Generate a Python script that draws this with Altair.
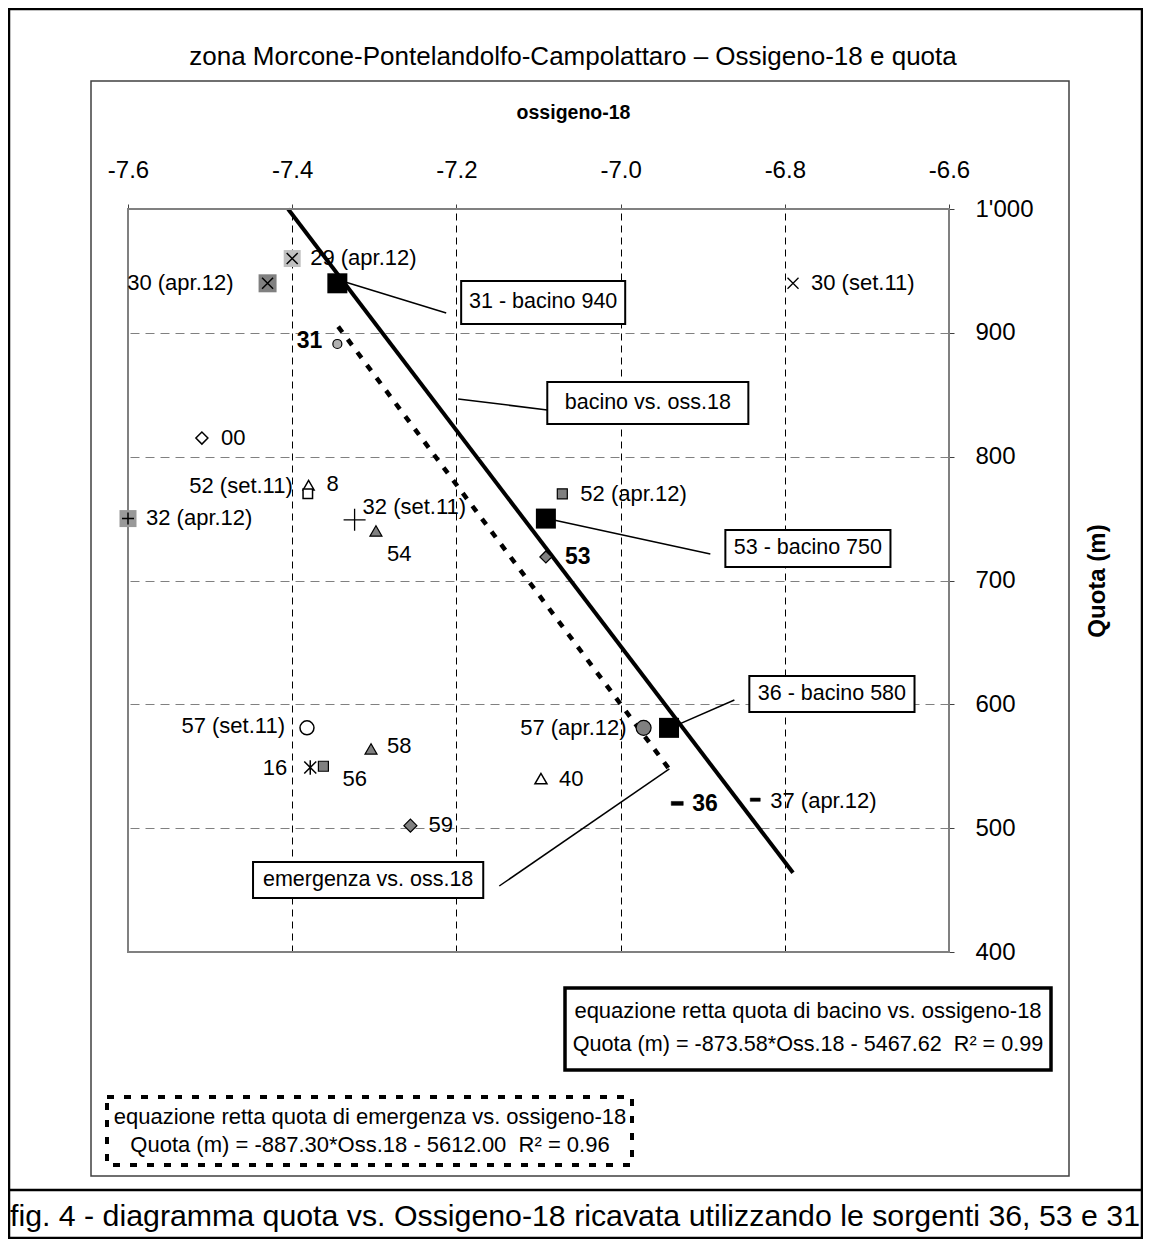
import altair as alt
import pandas as pd

# ---------------- data ----------------
sample_names = ["29 (apr.12)", "30 (apr.12)", "30 (set.11)", "31", "00", "8",
                "52 (set.11)", "32 (apr.12)", "32 (set.11)", "54", "52 (apr.12)",
                "53", "57 (set.11)", "58", "16", "56", "59", "57 (apr.12)", "40",
                "36", "37 (apr.12)"]
sample_oss18 = [-7.40, -7.43, -6.79, -7.345, -7.51, -7.38, -7.381, -7.60, -7.324,
                -7.298, -7.071, -7.091, -7.382, -7.304, -7.378, -7.362, -7.256,
                -6.972, -7.097, -6.931, -6.836]
sample_quota = [960, 940, 940, 891, 815, 777, 770, 750, 749, 740, 770, 719, 581,
                564, 549, 550, 502, 581, 540, 520, 523]

basin_names = ["31 - bacino 940", "53 - bacino 750", "36 - bacino 580"]
basin_oss18 = [-7.345, -7.091, -6.941]
basin_quota = [940, 750, 581]

basin_fit_oss18 = [-7.405, -6.79]
basin_fit_quota = [1000, 464]
spring_fit_oss18 = [-7.344, -6.940]
spring_fit_quota = [905, 547]

x_ticks = [-7.6, -7.4, -7.2, -7.0, -6.8, -6.6]
y_ticks = [400, 500, 600, 700, 800, 900, 1000]

callout_texts = ["31 - bacino 940", "bacino vs. oss.18", "53 - bacino 750",
                 "36 - bacino 580", "emergenza vs. oss.18"]

title_text = "zona Morcone-Pontelandolfo-Campolattaro \u2013 Ossigeno-18 e quota"
caption_text = "fig. 4 - diagramma quota vs. Ossigeno-18 ricavata utilizzando le sorgenti 36, 53 e 31"
eq_basin = ["equazione retta quota di bacino vs. ossigeno-18",
            "Quota (m) = -873.58*Oss.18 - 5467.62 \u00a0R\u00b2 = 0.99"]
eq_spring = ["equazione retta quota di emergenza vs. ossigeno-18",
             "Quota (m) = -887.30*Oss.18 - 5612.00 \u00a0R\u00b2 = 0.96"]

# ---------------- styles ----------------
FONT = "Liberation Sans"
GRAY = "#808080"
X_PATH = "M-1,-1L1,1M1,-1L-1,1"
PLUS_PATH = "M-1,0L1,0M0,-1L0,1"
AST_PATH = "M-1,-1L1,1M1,-1L-1,1M0,-1.2L0,1.2"
DASH_PATH = "M-1,-0.33L1,-0.33L1,0.33L-1,0.33Z"
T = "transparent"

# name: (shape, fill, size, strokeWidth)
marker_style = {
    "29 (apr.12)": (X_PATH, T, 121, 1.5),
    "30 (apr.12)": (X_PATH, T, 121, 1.5),
    "30 (set.11)": (X_PATH, T, 121, 1.3),
    "31": ("circle", "#b0b0b0", 81, 1.2),
    "00": ("diamond", "white", 144, 1.5),
    "8": ("triangle-up", "white", 121, 1.5),
    "52 (set.11)": ("square", "white", 90, 1.5),
    "32 (apr.12)": (PLUS_PATH, T, 144, 1.5),
    "32 (set.11)": (PLUS_PATH, T, 484, 1.3),
    "54": ("triangle-up", GRAY, 144, 1.2),
    "52 (apr.12)": ("square", GRAY, 100, 1.2),
    "53": ("diamond", GRAY, 144, 1.2),
    "57 (set.11)": ("circle", "white", 196, 1.5),
    "58": ("triangle-up", GRAY, 144, 1.2),
    "16": (AST_PATH, T, 144, 1.5),
    "56": ("square", GRAY, 100, 1.2),
    "59": ("diamond", GRAY, 169, 1.2),
    "57 (apr.12)": ("circle", GRAY, 225, 1.2),
    "40": ("triangle-up", "white", 144, 1.5),
    "36": (DASH_PATH, "black", 144, 0.5),
    "37 (apr.12)": (DASH_PATH, "black", 100, 0.5),
}
# background squares behind some markers: name: (colour, side)
marker_bg = {"29 (apr.12)": ("#c0c0c0", 17), "30 (apr.12)": ("#808080", 18),
             "32 (apr.12)": ("#999999", 17)}
# label placement: name: (align, dx, dy, bold)
label_style = {
    "29 (apr.12)": ("left", 18, -1, False),
    "30 (apr.12)": ("right", -34, 0, False),
    "30 (set.11)": ("left", 18, 0, False),
    "31": ("right", -15, -3, True),
    "00": ("left", 19, 0, False),
    "8": ("left", 18, -1, False),
    "52 (set.11)": ("right", -15, -8, False),
    "32 (apr.12)": ("left", 18, -1, False),
    "32 (set.11)": ("left", 8, -13, False),
    "54": ("left", 11, 23, False),
    "52 (apr.12)": ("left", 18, 0, False),
    "53": ("left", 19, 0, True),
    "57 (set.11)": ("right", -22, -2, False),
    "58": ("left", 16, -3, False),
    "16": ("right", -23, 1, False),
    "56": ("left", 19, 13, False),
    "59": ("left", 18, -1, False),
    "57 (apr.12)": ("right", -17, 0, False),
    "40": ("left", 18, 0, False),
    "36": ("left", 15, 1, True),
    "37 (apr.12)": ("left", 15, 1, False),
}
# callout boxes in data units: (x1, x2, y1, y2, text_x, text_y)
callout_box = [
    (-7.1942, -6.9944, 941.9, 907.1, -7.0943, 924.5),
    (-7.0893, -6.8444, 860.3, 826.4, -6.9669, 843.4),
    (-6.8724, -6.6713, 740.8, 710.9, -6.7719, 725.9),
    (-6.8432, -6.6420, 622.9, 593.8, -6.7426, 608.4),
    (-7.4477, -7.1673, 472.7, 443.6, -7.3075, 458.1),
]
# leader lines in data units: (x, y, x2, y2)
callout_leader = [
    (-7.3355, 941.0, -7.2124, 916.0),
    (-7.1978, 846.6, -7.0893, 837.7),
    (-7.0914, 750.2, -6.8907, 721.4),
    (-6.9406, 580.6, -6.8614, 603.5),
    (-7.1478, 453.3, -6.9406, 547.8),
]

# page position of plot origin (for decorations placed in pixels)
OX, OY = 128, 209
W, H = 821, 743

# ---------------- scales / axes ----------------
xscale = alt.Scale(domain=[-7.6, -6.6], nice=False, zero=False)
yscale = alt.Scale(domain=[400, 1000], nice=False, zero=False)
xaxis = alt.Axis(orient="top", values=x_ticks, title="ossigeno-18",
                 labelExpr="datum.value < 0 ? '-' + format(-datum.value, '.1f') : format(datum.value, '.1f')",
                 labelFont=FONT, labelFontSize=24, labelColor="black",
                 labelPadding=27, labelBaseline="alphabetic", labelFlush=False,
                 titleFont=FONT, titleFontSize=19.5, titleFontWeight="bold",
                 titleColor="black", titleX=573 - OX, titleY=-97,
                 titleBaseline="middle", titleAlign="center",
                 domain=False, ticks=True, tickSize=5, tickColor="#404040",
                 grid=True, gridColor="black", gridDash=[7, 5], gridWidth=1)
yaxis = alt.Axis(orient="right", values=y_ticks, title="Quota (m)",
                 labelExpr="datum.value == 1000 ? \"1'000\" : format(datum.value, 'd')",
                 labelFont=FONT, labelFontSize=24, labelColor="black",
                 labelPadding=21, labelAlign="left", labelBaseline="middle",
                 labelFlush=False,
                 titleFont=FONT, titleFontSize=24, titleFontWeight="bold",
                 titleColor="black", titleAngle=270, titleX=148, titleY=H / 2,
                 titleBaseline="middle", titleAlign="center",
                 domain=False, ticks=True, tickSize=5, tickColor="#404040",
                 grid=True, gridColor="#808080", gridDash=[9, 6], gridWidth=1)
X = alt.X("x:Q", scale=xscale, axis=xaxis)
Y = alt.Y("y:Q", scale=yscale, axis=yaxis)

one = pd.DataFrame({"k": [0]})


def deco_rect(x1, y1, x2, y2, stroke, sw, fill=T, dash=None):
    kw = dict(stroke=stroke, strokeWidth=sw, fill=fill)
    if dash:
        kw["strokeDash"] = dash
        kw["strokeCap"] = "butt"
    return alt.Chart(one).mark_rect(**kw).encode(
        x=alt.value(x1 - OX), x2=alt.value(x2 - OX),
        y=alt.value(y1 - OY), y2=alt.value(y2 - OY))


def deco_rule(x1, y1, x2, y2, sw, color="black"):
    return alt.Chart(one).mark_rule(color=color, strokeWidth=sw).encode(
        x=alt.value(x1 - OX), x2=alt.value(x2 - OX),
        y=alt.value(y1 - OY), y2=alt.value(y2 - OY))


def deco_text(txt, x, y, size, align="center", weight="normal"):
    return alt.Chart(one).mark_text(font=FONT, fontSize=size, align=align,
                                    baseline="middle", fontWeight=weight,
                                    color="black").encode(
        x=alt.value(x - OX), y=alt.value(y - OY), text=alt.value(txt))


layers = []
# figure frame, inner chart box, title, caption
layers.append(deco_rect(9, 9, 1142, 1238, "black", 2.5))
layers.append(deco_rect(91, 81, 1069, 1176, "#404040", 1.5))
layers.append(deco_rule(9, 1190, 1142, 1190, 2.5))
layers.append(deco_text(title_text, 573, 57, 26))
layers.append(deco_text(caption_text, 10, 1217, 30.3, align="left"))

# fitted lines
basin_fit = pd.DataFrame({"x": basin_fit_oss18, "y": basin_fit_quota})
spring_fit = pd.DataFrame({"x": spring_fit_oss18, "y": spring_fit_quota})
layers.append(alt.Chart(basin_fit).mark_line(color="black", strokeWidth=4)
              .encode(x=X, y=Y))
layers.append(alt.Chart(spring_fit).mark_line(color="black", strokeWidth=4.5,
                                              strokeDash=[7, 9], strokeCap="butt")
              .encode(x=X, y=Y))

# plot frame
layers.append(deco_rect(OX, OY, OX + W, OY + H, GRAY, 2))

# leader lines
lead = pd.DataFrame(callout_leader, columns=["x", "y", "x2", "y2"])
layers.append(alt.Chart(lead).mark_rule(color="black", strokeWidth=1.5)
              .encode(x=X, y=Y, x2="x2:Q", y2="y2:Q"))

# sample markers
name_to_xy = {n: (a, b) for n, a, b in zip(sample_names, sample_oss18, sample_quota)}
bg = pd.DataFrame([{"x": name_to_xy[n][0], "y": name_to_xy[n][1],
                    "fill": c, "size": s * s} for n, (c, s) in marker_bg.items()])
layers.append(alt.Chart(bg).mark_point(shape="square", filled=True, opacity=1,
                                       strokeWidth=0)
              .encode(x=X, y=Y, fill=alt.Fill("fill:N", scale=None),
                      size=alt.Size("size:Q", scale=None)))

pts = pd.DataFrame([{"name": n, "x": a, "y": b,
                     "shape": marker_style[n][0], "fill": marker_style[n][1],
                     "size": marker_style[n][2], "sw": marker_style[n][3]}
                    for n, a, b in zip(sample_names, sample_oss18, sample_quota)])
layers.append(alt.Chart(pts).mark_point(opacity=1, stroke="black")
              .encode(x=X, y=Y, shape=alt.Shape("shape:N", scale=None),
                      fill=alt.Fill("fill:N", scale=None),
                      size=alt.Size("size:Q", scale=None),
                      strokeWidth=alt.StrokeWidth("sw:Q", scale=None)))

basins = pd.DataFrame({"name": basin_names, "x": basin_oss18, "y": basin_quota})
layers.append(alt.Chart(basins).mark_point(shape="square", filled=True, opacity=1,
                                           color="black", size=400)
              .encode(x=X, y=Y))

# sample labels
for n in sample_names:
    al, dx, dy, bold = label_style[n]
    layers.append(alt.Chart(pts).transform_filter(alt.datum.name == n)
                  .mark_text(font=FONT, fontSize=23 if bold else 22,
                             fontWeight="bold" if bold else "normal",
                             align=al, baseline="middle", dx=dx, dy=dy, color="black")
                  .encode(x=X, y=Y, text="name:N"))

# callout boxes and texts
boxes = pd.DataFrame([{"x": b[0], "x2": b[1], "y": b[2], "y2": b[3],
                       "tx": b[4], "ty": b[5], "label": t}
                      for b, t in zip(callout_box, callout_texts)])
layers.append(alt.Chart(boxes).mark_rect(fill="white", stroke="black", strokeWidth=2)
              .encode(x=X, y=Y, x2="x2:Q", y2="y2:Q"))
layers.append(alt.Chart(boxes).mark_text(font=FONT, fontSize=21.5, color="black",
                                         baseline="middle", align="center")
              .encode(x=alt.X("tx:Q", scale=xscale, axis=xaxis),
                      y=alt.Y("ty:Q", scale=yscale, axis=yaxis), text="label:N"))

# equation boxes
layers.append(deco_rect(565, 988, 1051, 1070, "black", 3.5, fill="white"))
layers.append(deco_text(eq_basin[0], 808, 1011, 22))
layers.append(deco_text(eq_basin[1], 808, 1045, 21.6))
layers.append(deco_rect(107, 1097, 632, 1165, "black", 4, fill="white", dash=[7, 10]))
layers.append(deco_text(eq_spring[0], 370, 1117, 22))
layers.append(deco_text(eq_spring[1], 370, 1145, 22))

chart = alt.layer(*layers).properties(
    width=W, height=H,
    autosize=alt.AutoSizeParams(type="none"),
    padding={"left": OX - 8, "top": OY - 8, "right": 194, "bottom": 287},
    background="white",
).configure_view(stroke="transparent")

chart.save("out.html", embed_options={"renderer": "svg", "actions": False})
